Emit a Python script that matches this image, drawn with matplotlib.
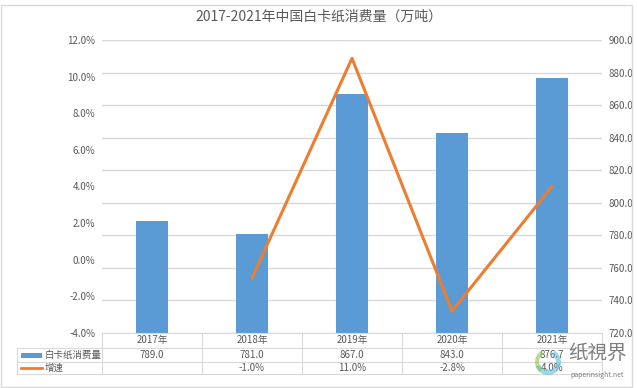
import matplotlib
matplotlib.use("Agg")
import matplotlib.pyplot as plt
from matplotlib.patches import Rectangle, Wedge
from matplotlib.lines import Line2D
import numpy as np

plt.rcParams['font.family'] = ['Noto Sans CJK SC', 'DejaVu Sans']

years = ["2017年", "2018年", "2019年", "2020年", "2021年"]
consumption = [789.0, 781.0, 867.0, 843.0, 876.7]
growth = [None, -1.0, 11.0, -2.8, 4.0]
consumption_labels = ["789.0", "781.0", "867.0", "843.0", "876.7"]
growth_labels = ["", "-1.0%", "11.0%", "-2.8%", "4.0%"]
series_names = ["白卡纸消费量", "增速"]
title = "2017-2021年中国白卡纸消费量（万吨）"

BLUE = "#5B9BD5"
ORANGE = "#ED7D31"
TXT = "#595959"
GRID = "#D9D9D9"

W, H = 637, 388
fig = plt.figure(figsize=(W / 100, H / 100), dpi=100)

left_px, right_px, top_px, bot_px = 102, 602, 40, 333
ax_pct = fig.add_axes([left_px / W, 1 - bot_px / H, (right_px - left_px) / W, (bot_px - top_px) / H])
ax_vol = ax_pct.twinx()

x = np.arange(len(years))

# bars on the volume axis
ax_vol.bar(x, consumption, width=0.32, color=BLUE, zorder=2)
ax_vol.set_ylim(720, 900)
ax_vol.set_yticks(np.arange(720, 901, 20))
ax_vol.set_yticklabels([f"{v:.1f}" for v in np.arange(720, 901, 20)])
ax_vol.grid(axis='y', color=GRID, linewidth=1, zorder=0)
ax_vol.set_axisbelow(True)

# line on percentage axis
gx = [xi for xi, g in zip(x, growth) if g is not None]
gy = [g for g in growth if g is not None]
ax_pct.plot(gx, gy, color=ORANGE, linewidth=2.2, solid_capstyle='round', zorder=5)
ax_pct.set_ylim(-4, 12)
ax_pct.set_yticks(np.arange(-4, 12.1, 2))
ax_pct.set_yticklabels([f"{v:.1f}%" for v in np.arange(-4, 12.1, 2)])
ax_pct.set_zorder(ax_vol.get_zorder() + 1)
ax_pct.patch.set_visible(False)

for a in (ax_pct, ax_vol):
    a.set_xlim(-0.5, len(years) - 0.5)
    a.set_xticks([])
    for s in a.spines.values():
        s.set_visible(False)
    a.tick_params(axis='y', length=0, labelsize=7, labelcolor=TXT, pad=5)

# data table below the plot
ph = bot_px - top_px
def yax(py):
    return -(py - bot_px) / ph

trans = ax_pct.get_xaxis_transform()
y_top, y_r1, y_r2, y_bot = yax(333), yax(348), yax(362), yax(374)
x_leg = -0.5 - (left_px - 17) / 100.0
x_end = len(years) - 0.5

lk = dict(color=GRID, linewidth=0.8, transform=trans, clip_on=False)
ax_pct.add_line(Line2D([-0.5, x_end], [y_top, y_top], **lk))
for yy in (y_r1, y_r2, y_bot):
    ax_pct.add_line(Line2D([x_leg, x_end], [yy, yy], **lk))
for xv in np.arange(-0.5, x_end + 0.01, 1.0):
    ax_pct.add_line(Line2D([xv, xv], [y_top, y_bot], **lk))
ax_pct.add_line(Line2D([x_leg, x_leg], [y_r1, y_bot], **lk))

tk = dict(transform=trans, ha='center', va='center', fontsize=7, color=TXT, clip_on=False)
for i, yr in enumerate(years):
    ax_pct.text(i, (y_top + y_r1) / 2, yr, **tk)
    ax_pct.text(i, (y_r1 + y_r2) / 2, consumption_labels[i], **tk)
    ax_pct.text(i, (y_r2 + y_bot) / 2, growth_labels[i], **tk)

px2x = lambda p: -0.5 - (left_px - p) / 100.0
ym1 = (y_r1 + y_r2) / 2
ym2 = (y_r2 + y_bot) / 2
ax_pct.add_patch(Rectangle((px2x(21), ym1 - 2.5 / ph), (42 - 21) / 100.0, 5 / ph,
                           facecolor=BLUE, edgecolor='none', transform=trans, clip_on=False))
ax_pct.add_line(Line2D([px2x(21), px2x(42)], [ym2, ym2], color=ORANGE, linewidth=2,
                       transform=trans, clip_on=False))
ax_pct.text(px2x(45), ym1, series_names[0], transform=trans, ha='left', va='center',
            fontsize=6.8, color=TXT, clip_on=False)
ax_pct.text(px2x(45), ym2, series_names[1], transform=trans, ha='left', va='center',
            fontsize=6.8, color=TXT, clip_on=False)

# title
fig.text(0.5, 1 - 17 / H, title, ha='center', va='center', fontsize=10, color=TXT)

# watermark
fig.text(597 / W, 1 - 353 / H, "纸視界", ha='center', va='center', fontsize=14, color="#7F7F7F")
fig.text(597 / W, 1 - 375 / H, "paperinsight.net", ha='center', va='center', fontsize=5, color="#7F7F7F")
fig.patches.append(Wedge((548, H - 362), 13, 200, 60, width=5, transform=None,
                         facecolor="#5BC0DE", edgecolor='none', alpha=0.6))
fig.patches.append(Wedge((548, H - 362), 13, 120, 230, width=4, transform=None,
                         facecolor="#8BC34A", edgecolor='none', alpha=0.6))

# outer border
fig.patches.append(Rectangle((1 / W, 1 / H), (W - 6) / W, (H - 6) / H, transform=fig.transFigure,
                             facecolor='none', edgecolor=GRID, linewidth=1))

fig.savefig("out.png", dpi=100)
